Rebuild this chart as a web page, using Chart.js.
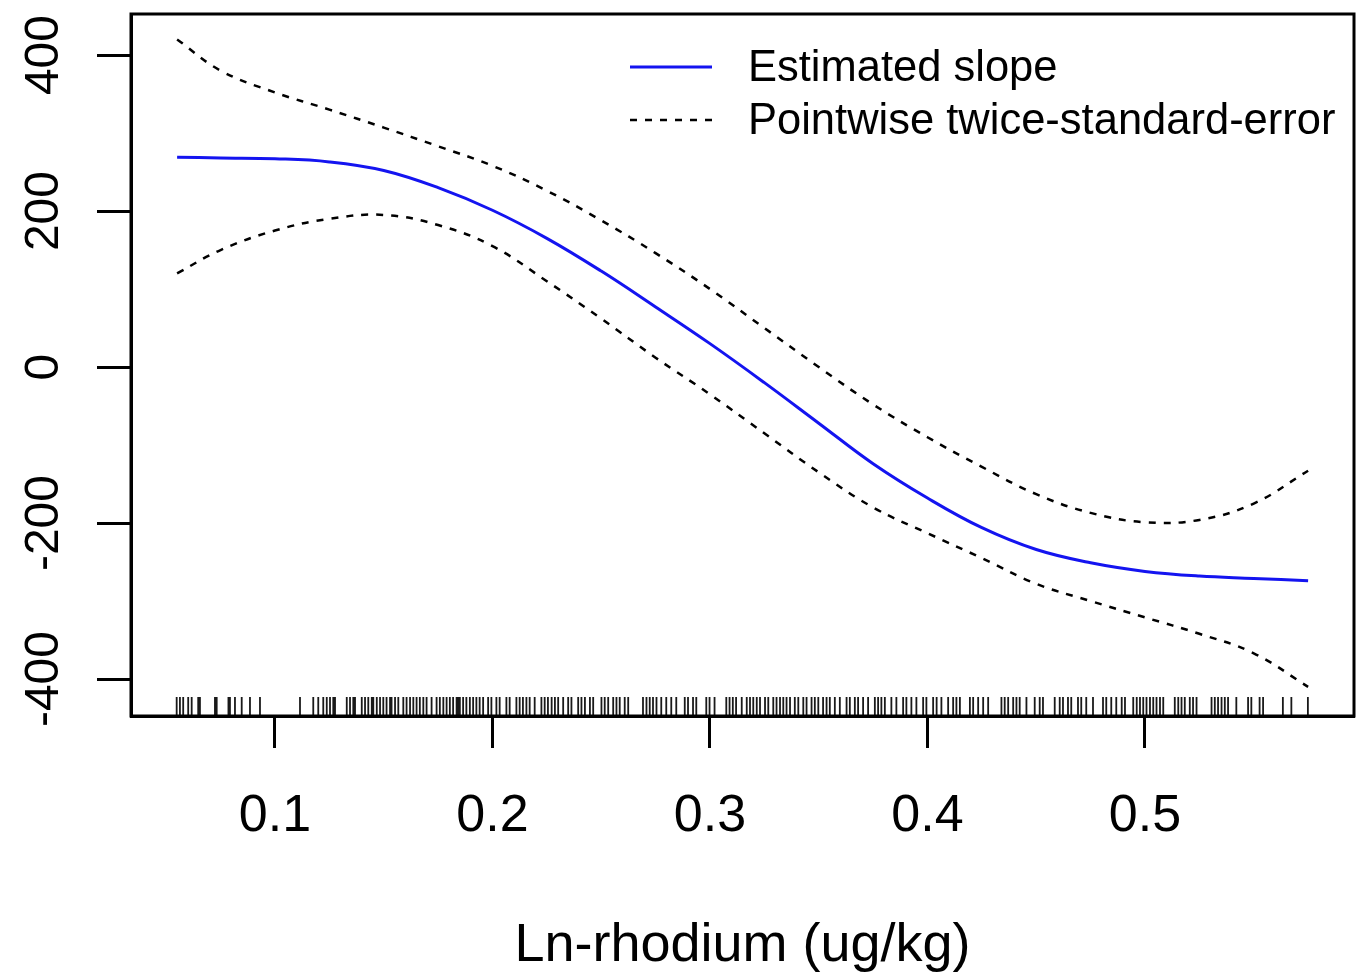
<!DOCTYPE html>
<html><head><meta charset="utf-8">
<script src="https://cdn.jsdelivr.net/npm/chart.js@4/dist/chart.umd.min.js"></script>
<style>html,body{margin:0;padding:0;background:#fff;}canvas{display:block;}</style>
</head><body>
<canvas id="c" width="1358" height="975"></canvas>
<script>
const xGrid   = [0.055,0.075,0.1,0.125,0.15,0.175,0.2,0.225,0.25,0.275,0.3,0.325,0.35,0.375,0.4,0.425,0.45,0.475,0.5,0.525,0.55,0.575];
const slope   = [269,268,267,263,252,230,201,165,123,77,30,-20,-72,-124,-168,-206,-234,-251,-262,-268,-271,-274];
const upperSE = [420,380,352,330,307,283,258,226,188,146,100,50,0,-48,-90,-128,-163,-187,-199,-196,-175,-133];
const lowerSE = [120,150,175,190,195,182,155,110,62,12,-35,-85,-135,-180,-213,-245,-278,-300,-321,-342,-367,-410];
const rugX = [
 0.0548,0.0563,0.0578,0.0601,0.0617,0.0647,0.0655,0.0724,0.0732,0.0786,0.0793,0.0816,0.0847,0.0885,0.0931,
 0.1115,0.1176,0.1199,0.1222,0.1238,0.1253,0.1268,0.1276,0.1330,0.1345,0.1360,0.1368,
 0.1399,0.1414,0.1429,0.1445,0.1452,0.1468,0.1483,0.1498,0.1513,0.1529,0.1536,0.1552,0.1567,0.1590,0.1605,0.1621,0.1636,0.1651,0.1666,0.1682,0.1697,0.1720,0.1743,0.1758,0.1774,0.1789,0.1804,0.1819,0.1835,0.1842,0.1850,0.1865,0.1880,0.1896,0.1911,0.1926,0.1941,0.1957,0.1980,0.1995,0.2018,0.2033,0.2064,0.2079,0.2110,0.2125,0.2140,0.2156,0.2171,0.2194,0.2225,0.2240,0.2255,
 0.2272,0.2287,0.2302,0.2325,0.2348,0.2363,0.2394,0.2409,0.2425,0.2448,0.2463,0.2501,0.2516,0.2532,0.2555,0.2570,0.2585,0.2608,0.2624,0.2692,0.2708,0.2723,0.2738,0.2754,0.2776,0.2799,0.2822,0.2845,0.2884,0.2899,0.2922,0.2937,0.2983,0.2998,0.3021,0.3075,0.3090,0.3105,0.3120,
 0.3146,0.3169,0.3184,0.3199,0.3215,0.3230,0.3253,0.3268,0.3291,0.3306,0.3322,0.3337,0.3352,0.3368,0.3390,0.3406,0.3429,0.3444,0.3467,0.3482,0.3498,0.3520,0.3536,0.3551,0.3574,0.3597,0.3628,0.3643,0.3666,0.3681,0.3704,0.3727,0.3758,0.3773,0.3788,0.3804,0.3834,0.3857,0.3888,0.3903,0.3926,0.3949,0.3980,0.3995,
 0.4026,0.4042,0.4064,0.4095,0.4118,0.4133,0.4149,0.4195,0.4210,0.4233,0.4256,0.4279,0.4340,0.4355,0.4371,0.4394,0.4409,0.4424,0.4455,0.4493,0.4516,0.4531,0.4585,0.4608,0.4623,0.4646,0.4661,0.4692,0.4707,0.4730,0.4761,0.4807,0.4822,0.4845,0.4868,
 0.4893,0.4908,0.4946,0.4962,0.4977,0.4992,0.5007,0.5023,0.5038,0.5053,0.5069,0.5084,0.5137,0.5153,0.5168,0.5183,0.5206,0.5221,0.5237,0.5306,0.5321,0.5336,0.5352,0.5367,0.5382,0.5420,0.5474,0.5489,0.5527,0.5543,0.5634,0.5673,0.5749
];
const xTicks = [0.1,0.2,0.3,0.4,0.5];
const yTicks = [-400,-200,0,200,400];
const xTitle = 'Ln-rhodium (ug/kg)';
const legendLabels = ['Estimated slope','Pointwise twice-standard-error'];

const FONT = "'Liberation Sans', Arial, Helvetica, sans-serif";
const BLUE = '#1414f0';
const DASH = [7,8];

const pts = arr => xGrid.map((x,i)=>({x:x,y:arr[i]}));

const boxPlugin = {
  id:'box',
  afterDraw(chart){
    const {ctx, chartArea:a, scales} = chart;
    ctx.save();
    // rug
    ctx.strokeStyle = 'rgba(0,0,0,0.9)';
    ctx.lineWidth = 1.8;
    ctx.beginPath();
    rugX.forEach(v=>{
      const px = scales.x.getPixelForValue(v);
      ctx.moveTo(px, a.bottom);
      ctx.lineTo(px, a.bottom-19);
    });
    ctx.stroke();
    // box
    ctx.strokeStyle = '#000';
    ctx.lineWidth = 3;
    ctx.strokeRect(a.left, a.top, a.right-a.left, a.bottom-a.top);
    // y tick labels, rotated
    ctx.fillStyle = '#000';
    ctx.font = '48px ' + FONT;
    ctx.textAlign = 'center';
    ctx.textBaseline = 'alphabetic';
    yTicks.forEach(v=>{
      const py = scales.y.getPixelForValue(v);
      ctx.save();
      ctx.translate(58, py);
      ctx.rotate(-Math.PI/2);
      ctx.fillText(String(v), 0, 0);
      ctx.restore();
    });
    // legend
    const lx0 = 630, lx1 = 712, tx = 748;
    const rows = [{y:67, color:BLUE, dash:[], w:3},{y:120, color:'#000', dash:DASH, w:2.5}];
    ctx.font = '43.5px ' + FONT;
    ctx.textAlign = 'left';
    ctx.textBaseline = 'middle';
    rows.forEach((r,i)=>{
      ctx.strokeStyle = r.color;
      ctx.lineWidth = r.w;
      ctx.setLineDash(r.dash);
      ctx.beginPath();
      ctx.moveTo(lx0, r.y); ctx.lineTo(lx1, r.y);
      ctx.stroke();
      ctx.setLineDash([]);
      ctx.fillText(legendLabels[i], tx, r.y+2);
    });
    ctx.restore();
  }
};

new Chart(document.getElementById('c'), {
  type:'line',
  data:{
    datasets:[
      {label:legendLabels[0], data:pts(slope), borderColor:BLUE, borderWidth:3, pointRadius:0, tension:0.4, fill:false},
      {label:legendLabels[1], data:pts(upperSE), borderColor:'#000', borderWidth:2.5, borderDash:DASH, pointRadius:0, tension:0.4, fill:false},
      {label:legendLabels[1]+' (lower)', data:pts(lowerSE), borderColor:'#000', borderWidth:2.5, borderDash:DASH, pointRadius:0, tension:0.4, fill:false}
    ]
  },
  options:{
    responsive:false,
    devicePixelRatio:1,
    animation:false,
    layout:{padding:{left:0, top:14, right:4, bottom:0}},
    plugins:{legend:{display:false}, tooltip:{enabled:false}},
    scales:{
      x:{
        type:'linear', min:0.0338, max:0.5961,
        afterBuildTicks: s => { s.ticks = xTicks.map(v=>({value:v})); },
        afterFit: s => { s.height = 259; },
        ticks:{display:true, autoSkip:false, maxRotation:0, minRotation:0, padding:37, color:'#000',
               font:{family:FONT, size:52}, callback: v => v.toFixed(1)},
        grid:{drawOnChartArea:false, drawTicks:true, tickLength:32, tickColor:'#000', tickWidth:3, color:'#000'},
        border:{display:true, color:'#000', width:3},
        title:{display:true, text:xTitle, color:'#000', font:{family:FONT, size:54, lineHeight:1}, padding:{top:0,bottom:2}}
      },
      y:{
        type:'linear', min:-447.4, max:452.6,
        afterBuildTicks: s => { s.ticks = yTicks.map(v=>({value:v})); },
        afterFit: s => { s.width = 131; },
        ticks:{display:false},
        grid:{drawOnChartArea:false, drawTicks:true, tickLength:34, tickColor:'#000', tickWidth:3, color:'#000'},
        border:{display:true, color:'#000', width:3}
      }
    }
  },
  plugins:[boxPlugin]
});
</script>
</body></html>
